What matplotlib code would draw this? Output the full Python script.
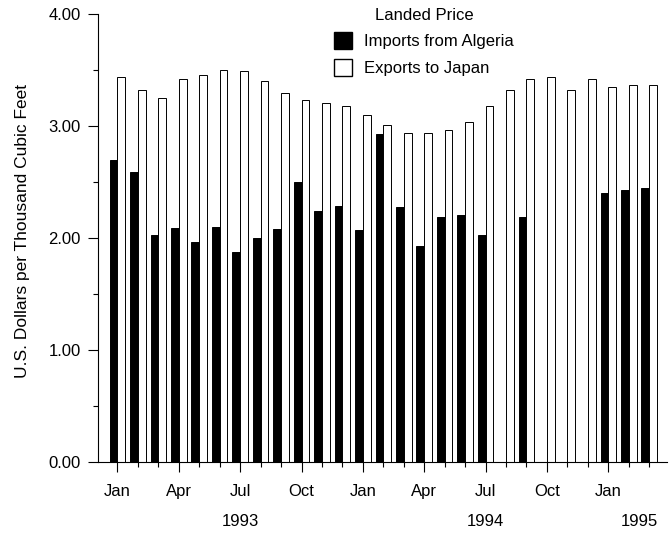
import matplotlib.pyplot as plt
import matplotlib.transforms as mtransforms
from matplotlib.patches import Patch
import numpy as np

plt.rcParams['font.family'] = ['Liberation Sans', 'DejaVu Sans']

# Monthly landed prices, Jan 1993 - Mar 1995
months = ['Jan', 'Feb', 'Mar', 'Apr', 'May', 'Jun', 'Jul', 'Aug', 'Sep', 'Oct', 'Nov', 'Dec',
          'Jan', 'Feb', 'Mar', 'Apr', 'May', 'Jun', 'Jul', 'Aug', 'Sep', 'Oct', 'Nov', 'Dec',
          'Jan', 'Feb', 'Mar']
algeria = [2.70, 2.59, 2.03, 2.09, 1.97, 2.10, 1.88, 2.00, 2.08, 2.50, 2.24, 2.29,
           2.07, 2.93, 2.28, 1.93, 2.19, 2.21, 2.03, np.nan, 2.19, np.nan, np.nan, np.nan,
           2.40, 2.43, 2.45]
japan = [3.44, 3.32, 3.25, 3.42, 3.46, 3.50, 3.49, 3.40, 3.30, 3.23, 3.21, 3.18,
         3.10, 3.01, 2.94, 2.94, 2.97, 3.04, 3.18, 3.32, 3.42, 3.44, 3.32, 3.42,
         3.35, 3.37, 3.37]
years = ['1993', '1994', '1995']
year_pos = [6, 18, 25.5]

fs = 12

fig = plt.figure(figsize=(6.69, 5.35), dpi=100)
ax = fig.add_axes([98 / 669, 1 - 462 / 535, (667 - 98) / 669, (462 - 14.3) / 535])

x = np.arange(len(months))
w = 0.38
ax.bar(x - w / 2, algeria, width=w, color='black', edgecolor='black', linewidth=0.7)
ax.bar(x + w / 2, japan, width=w, color='white', edgecolor='black', linewidth=0.7)

ax.set_xlim(-0.95, 26.87)
ax.set_ylim(0, 4)

for s in ['top', 'right']:
    ax.spines[s].set_visible(False)
ax.spines['left'].set_linewidth(0.8)
ax.spines['bottom'].set_linewidth(0.8)

ax.set_yticks([0, 1, 2, 3, 4])
ax.set_yticklabels(['0.00', '1.00', '2.00', '3.00', '4.00'])
ax.set_yticks([0.5, 1.5, 2.5, 3.5], minor=True)
ax.set_xticks(x[::3])
ax.set_xticklabels(months[::3])
ax.set_xticks(x, minor=True)
ax.tick_params(axis='both', which='major', length=7, width=0.8, labelsize=fs)
ax.tick_params(axis='y', which='major', pad=5.5)
ax.tick_params(axis='x', which='major', pad=9)
ax.tick_params(axis='both', which='minor', length=3.6, width=0.8)

trans = mtransforms.blended_transform_factory(ax.transData, fig.transFigure)
for yr, p in zip(years, year_pos):
    ax.text(p, 1 - 521 / 535, yr, transform=trans, ha='center', va='center', fontsize=fs)

ax.set_ylabel('U.S. Dollars per Thousand Cubic Feet', fontsize=12.5)
ax.yaxis.set_label_coords(-0.1195, 0.517)

handles = [Patch(facecolor='black', edgecolor='black'),
           Patch(facecolor='white', edgecolor='black')]
leg = fig.legend(handles, ['Imports from Algeria', 'Exports to Japan'],
                 title='Landed Price', frameon=False, fontsize=fs, title_fontsize=fs,
                 loc='upper left', bbox_to_anchor=(319 / 669, 1.0136),
                 handlelength=1.08, handleheight=1.2, labelspacing=0.56, handletextpad=0.72)

fig.savefig('out.png', dpi=100)
